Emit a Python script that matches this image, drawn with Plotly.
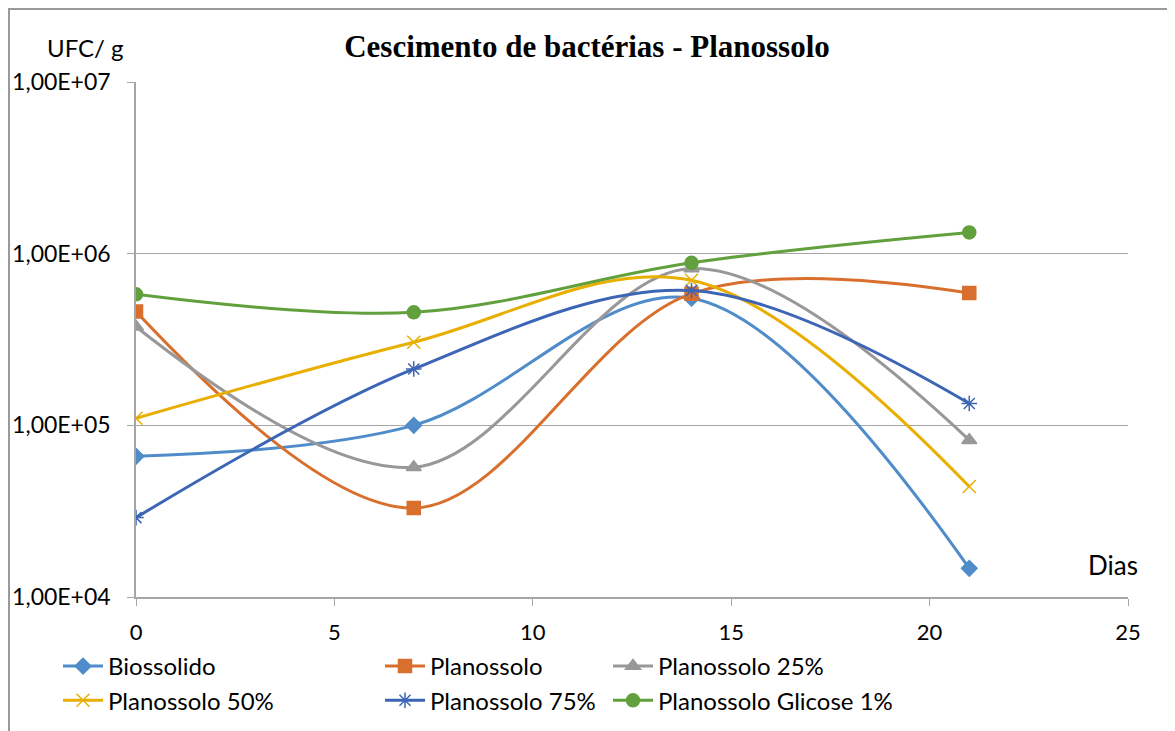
import plotly.graph_objects as go

# ---- data ----
dias = [0, 7, 14, 21]
biossolido = [6.6e4, 1.0e5, 5.5e5, 1.47e4]
planossolo = [4.6e5, 3.3e4, 5.85e5, 5.9e5]
planossolo_25 = [3.75e5, 5.7e4, 8.2e5, 8.2e4]
planossolo_50 = [1.1e5, 3.05e5, 7.0e5, 4.4e4]
planossolo_75 = [2.9e4, 2.13e5, 6.1e5, 1.34e5]
planossolo_glicose = [5.8e5, 4.55e5, 8.85e5, 1.33e6]

series_names = ["Biossolido", "Planossolo", "Planossolo 25%",
                "Planossolo 50%", "Planossolo 75%", "Planossolo Glicose 1%"]
y_tickvals = [1e4, 1e5, 1e6, 1e7]
y_ticktext = ["1,00E+04", "1,00E+05", "1,00E+06", "1,00E+07"]
x_tickvals = [0, 5, 10, 15, 20, 25]

FONT = "Lato"
OFF = 8  # page body margin offset

styles = [
    dict(color="#4F8CC9", symbol="diamond", size=12, legend="legend"),
    dict(color="#D86F2C", symbol="square", size=13, legend="legend2"),
    dict(color="#989898", symbol="triangle-up", size=13, legend="legend3"),
    dict(color="#E8AF00", symbol="x-thin-open", size=13, legend="legend"),
    dict(color="#3D65B5", symbol="asterisk-open", size=13, legend="legend2"),
    dict(color="#62A03D", symbol="circle", size=13, legend="legend3"),
]
values = [biossolido, planossolo, planossolo_25, planossolo_50, planossolo_75, planossolo_glicose]

fig = go.Figure()
for name, vals, st in zip(series_names, values, styles):
    fig.add_trace(go.Scatter(
        x=dias, y=vals, name=name, mode="lines+markers",
        line=dict(color=st["color"], width=3, shape="spline", smoothing=1),
        marker=dict(symbol=st["symbol"], size=st["size"], color=st["color"],
                    line=dict(color=st["color"], width=1.5)),
        legend=st["legend"],
    ))

legend_common = dict(
    orientation="v", xref="container", yref="container",
    xanchor="left", yanchor="top", font=dict(family=FONT, size=24, color="#000"),
    bgcolor="rgba(0,0,0,0)", tracegroupgap=0, itemwidth=40,
)
W, H = 1175, 731
PW = W - (136 - OFF) - (47 + OFF)
PH = H - (82 - OFF) - (134 + OFF)
fig.update_layout(
    width=W, height=H,
    margin=dict(l=136 - OFF, r=47 + OFF, t=82 - OFF, b=134 + OFF, autoexpand=False),
    paper_bgcolor="white", plot_bgcolor="white",
    title=dict(text="<b>Cescimento de bactérias - Planossolo</b>",
               font=dict(family="Liberation Serif", size=31, color="#000"),
               x=(587 - OFF) / W, xref="container", xanchor="center",
               y=1 - (46 - OFF) / H, yref="container", yanchor="middle"),
    showlegend=True,
    legend=dict(**legend_common, x=50 / W, y=1 - 636 / H),
    legend2=dict(**legend_common, x=372 / W, y=1 - 636 / H),
    legend3=dict(**legend_common, x=600 / W, y=1 - 636 / H),
    xaxis=dict(range=[0, 25], tickvals=x_tickvals, showgrid=False,
               showline=True, linecolor="#A6A6A6", linewidth=1.5,
               ticks="outside", ticklen=7, tickcolor="#A6A6A6",
               tickfont=dict(family=FONT, size=22, color="#000"),
               ticklabelstandoff=8, zeroline=False, automargin=False),
    yaxis=dict(type="log", range=[4, 7], tickvals=y_tickvals, ticktext=y_ticktext,
               showgrid=True, gridcolor="#A6A6A6", gridwidth=1.2,
               showline=True, linecolor="#A6A6A6", linewidth=1.5,
               ticks="outside", ticklen=7, tickcolor="#A6A6A6",
               tickfont=dict(family=FONT, size=23, color="#000"),
               ticklabelstandoff=12, zeroline=False, automargin=False),
    annotations=[
        dict(text="UFC/ g", xref="paper", yref="paper",
             x=(85 - 136) / PW, y=1 + (82 - 47) / PH,
             xanchor="center", yanchor="middle", showarrow=False,
             font=dict(family=FONT, size=24, color="#000")),
        dict(text="Dias", xref="paper", yref="paper",
             x=(1113 - 136) / PW, y=(597 - 565) / PH,
             xanchor="center", yanchor="middle", showarrow=False,
             font=dict(family=FONT, size=26, color="#000")),
    ],
    shapes=[
        dict(type="rect", xref="paper", yref="paper",
             x0=(OFF + 1 - 136) / PW, x1=1.2, y0=-0.5, y1=1 + (82 - OFF - 1) / PH,
             line=dict(color="#9A9A9A", width=2), fillcolor="rgba(0,0,0,0)",
             layer="below"),
    ],
)

fig.write_html("out.html")
